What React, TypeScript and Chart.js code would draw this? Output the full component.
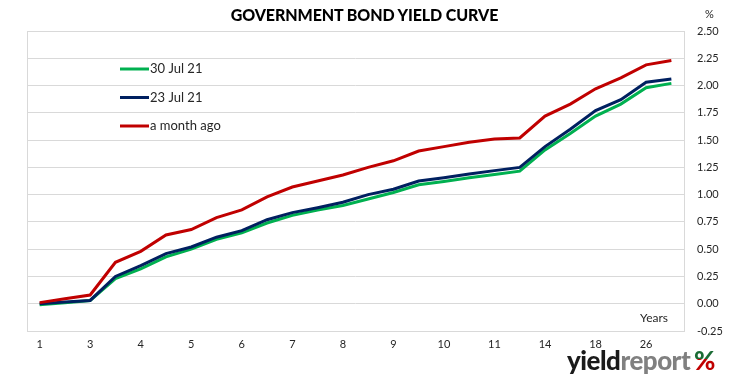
import React, { useEffect, useRef } from "react";
import { Chart, registerables } from "chart.js";

Chart.register(...registerables);

const categories = ["1", "", "3", "", "4", "", "5", "", "6", "", "7", "", "8", "", "9", "", "10", "", "11", "", "14", "", "18", "", "26", ""];
const yield30Jul = [-0.01, 0.01, 0.03, 0.23, 0.32, 0.43, 0.50, 0.59, 0.65, 0.74, 0.81, 0.86, 0.90, 0.96, 1.02, 1.09, 1.12, 1.155, 1.185, 1.215, 1.41, 1.56, 1.72, 1.83, 1.98, 2.02];
const yield23Jul = [0.00, 0.015, 0.03, 0.25, 0.35, 0.46, 0.52, 0.61, 0.67, 0.77, 0.835, 0.88, 0.93, 1.00, 1.05, 1.125, 1.155, 1.19, 1.22, 1.25, 1.44, 1.60, 1.77, 1.87, 2.03, 2.06];
const yieldMonthAgo = [0.01, 0.045, 0.08, 0.38, 0.48, 0.63, 0.68, 0.79, 0.86, 0.98, 1.07, 1.125, 1.18, 1.25, 1.31, 1.40, 1.44, 1.48, 1.51, 1.52, 1.72, 1.83, 1.97, 2.07, 2.19, 2.23];
const seriesNames = ["30 Jul 21", "23 Jul 21", "a month ago"];
const seriesColors = ["#00B050", "#002060", "#C00000"];

const FONT = "Lato, 'Open Sans', sans-serif";

const framePlugin = {
  id: "frameAndLegend",
  beforeDatasetsDraw(chart: any) {
    const { ctx, chartArea } = chart;
    ctx.save();
    ctx.strokeStyle = "#d9d9d9";
    ctx.lineWidth = 1;
    ctx.strokeRect(Math.round(chartArea.left) + 0.5, Math.round(chartArea.top) + 0.5, Math.round(chartArea.right - chartArea.left), Math.round(chartArea.bottom - chartArea.top));
    ctx.restore();
  },
  afterDatasetsDraw(chart: any) {
    const { ctx, chartArea } = chart;
    ctx.save();
    const lx = chartArea.left + 93;
    const ly = chartArea.top + 38;
    chart.data.datasets.forEach((ds: any, i: number) => {
      const y = ly + i * 28.5;
      ctx.strokeStyle = ds.borderColor;
      ctx.lineWidth = 3;
      ctx.beginPath();
      ctx.moveTo(lx, y);
      ctx.lineTo(lx + 29, y);
      ctx.stroke();
      ctx.fillStyle = "#262626";
      ctx.font = "13px " + FONT;
      ctx.textBaseline = "middle";
      ctx.textAlign = "left";
      ctx.fillText(ds.label, lx + 30, y);
    });
    ctx.font = "12px " + FONT;
    ctx.fillStyle = "#262626";
    ctx.textAlign = "right";
    ctx.textBaseline = "middle";
    ctx.fillText("Years", chartArea.right - 16, chartArea.bottom - 13);
    ctx.restore();
  },
};

export default function App() {
  const ref = useRef<HTMLCanvasElement | null>(null);
  useEffect(() => {
    document.body.style.margin = "0";
    if (!ref.current) return;
    const datasets = [yield30Jul, yield23Jul, yieldMonthAgo].map((d, i) => ({
      label: seriesNames[i],
      data: d,
      borderColor: seriesColors[i],
      backgroundColor: seriesColors[i],
      borderWidth: 3,
      pointRadius: 0,
      tension: 0,
      order: i === 0 ? 2 : i === 1 ? 1 : 0,
    }));
    const chart = new Chart(ref.current, {
      type: "line",
      data: { labels: categories, datasets },
      options: {
        animation: false,
        responsive: false,
        layout: { padding: { left: 27, top: 31, right: 0, bottom: 0 } },
        plugins: { legend: { display: false }, title: { display: false }, tooltip: { enabled: false } },
        scales: {
          x: {
            offset: true,
            grid: { display: false, drawTicks: false },
            border: { display: false },
            ticks: { autoSkip: false, maxRotation: 0, padding: 7, color: "#262626", font: { family: FONT, size: 11 } },
            afterFit(scale: any) { scale.height = 50; },
          },
          y: {
            position: "right",
            min: -0.25,
            max: 2.5,
            grid: { color: "#d9d9d9", drawTicks: false },
            border: { display: false },
            ticks: {
              stepSize: 0.25,
              padding: 13,
              color: "#262626",
              font: { family: FONT, size: 11 },
              callback: (v: any) => Number(v).toFixed(2),
            },
            afterFit(scale: any) { scale.width = 47; },
          },
        },
      },
      plugins: [framePlugin],
    });
    return () => chart.destroy();
  }, []);

  return (
    <div style={{ position: "relative", width: 731, height: 381, background: "#fff", overflow: "hidden" }}>
      <canvas ref={ref} width={731} height={381} style={{ position: "absolute", left: 0, top: 0 }} />
      <div style={{ position: "absolute", left: 0, width: 729, top: 5, textAlign: "center", fontFamily: FONT, fontWeight: 900, fontSize: 16, color: "#000", letterSpacing: -0.1 }}>
        GOVERNMENT BOND YIELD CURVE
      </div>
      <div style={{ position: "absolute", left: 705, top: 7, fontFamily: FONT, fontSize: 11, color: "#262626" }}>%</div>
      <div style={{ position: "absolute", left: 567, top: 345, transform: "scaleX(0.96)", transformOrigin: "left top", fontFamily: FONT, fontWeight: 900, fontSize: 27, letterSpacing: -0.5, whiteSpace: "nowrap", lineHeight: "30px" }}>
        <span style={{ color: "#1a1a1a" }}>yield</span>
        <span style={{ color: "#808080" }}>report</span>
        <span style={{ marginLeft: 4, background: "linear-gradient(to bottom, #1a6b34 0%, #1a6b34 50%, #c00000 50%, #c00000 100%)", WebkitBackgroundClip: "text", backgroundClip: "text", color: "transparent" }}>%</span>
      </div>
    </div>
  );
}
